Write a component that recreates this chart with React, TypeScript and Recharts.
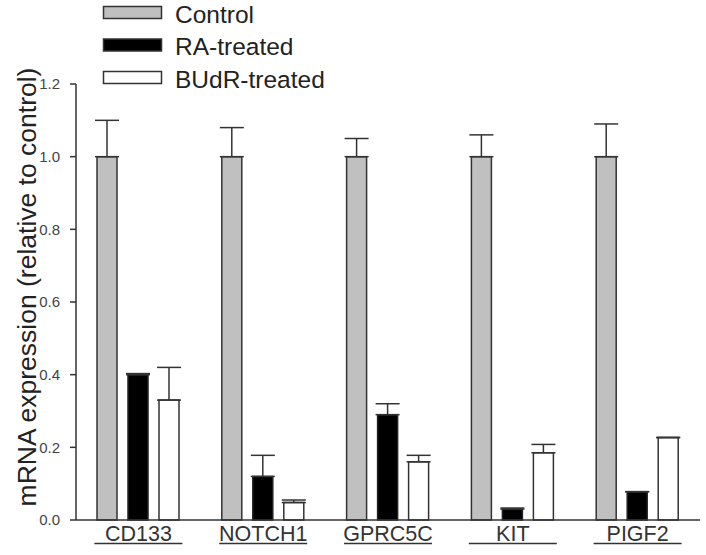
import React from "react";
import { BarChart, Bar, XAxis, YAxis, ErrorBar } from "recharts";

const genes = ["CD133", "NOTCH1", "GPRC5C", "KIT", "PIGF2"];
const control = [1.0, 1.0, 1.0, 1.0, 1.0];
const controlErr = [0.1, 0.08, 0.05, 0.06, 0.09];
const raTreated = [0.4, 0.12, 0.29, 0.03, 0.078];
const raErr = [0.003, 0.058, 0.03, 0.003, 0];
const budrTreated = [0.33, 0.048, 0.16, 0.185, 0.227];
const budrErr = [0.09, 0.007, 0.018, 0.023, 0];
const seriesNames = ["Control", "RA-treated", "BUdR-treated"];
const yTicks = [0, 0.2, 0.4, 0.6, 0.8, 1.0, 1.2];

const fills = ["#c0c0c0", "#000", "#fff"];

// error bars are one-sided (upward only)
const data = genes.map((gene, i) => ({
  gene,
  control: control[i],
  controlErr: [0, controlErr[i]],
  ra: raTreated[i],
  raErr: [0, raErr[i]],
  budr: budrTreated[i],
  budrErr: [0, budrErr[i]],
}));

const FONT = '"Liberation Sans", Arial, sans-serif';

const GeneTick = (props: any) => {
  const { x, y, payload } = props;
  return (
    <g transform={`translate(${x},${y})`}>
      <text x={0} y={21} textAnchor="middle" fontSize={21.5} fill="#333" fontFamily={FONT}>
        {payload.value}
      </text>
      <line x1={-44} x2={44} y1={23.5} y2={23.5} stroke="#333" strokeWidth={1.5} />
    </g>
  );
};

// legend sits above the plot, drawn on top of the chart svg
const LegendBoxes = () => (
  <svg width={360} height={100} style={{ position: "absolute", left: 0, top: 0 }}>
    {seriesNames.map((name, i) => (
      <g key={name} transform={`translate(0, ${i * 32.5})`}>
        <rect x={103.5} y={6.5} width={58} height={12} fill={fills[i]} stroke="#333" strokeWidth={1.5} />
        <text x={175} y={22.5} fontSize={24.5} fill="#222" fontFamily={FONT}>
          {name}
        </text>
      </g>
    ))}
  </svg>
);

const YTitle = () => (
  <text
    transform="translate(36, 287) rotate(-90)"
    textAnchor="middle"
    fontSize={26.5}
    fill="#222"
    fontFamily={FONT}
  >
    mRNA expression (relative to control)
  </text>
);

export default function App() {
  return (
    <div style={{ position: "absolute", left: 0, top: 0, width: 706, height: 555, background: "#fff", fontFamily: FONT }}>
      <BarChart
        width={706}
        height={555}
        data={data}
        margin={{ top: 84, right: 6, left: 0, bottom: 0 }}
        barSize={20}
        barGap={11}
      >
        <XAxis
          dataKey="gene"
          axisLine={{ stroke: "#333", strokeWidth: 1.5 }}
          tickLine={false}
          tickSize={0}
          tickMargin={0}
          interval={0}
          height={35}
          tick={<GeneTick />}
        />
        <YAxis
          width={76}
          domain={[0, 1.2]}
          ticks={yTicks}
          tickFormatter={(v: number) => v.toFixed(1)}
          axisLine={{ stroke: "#333", strokeWidth: 1.5 }}
          tickLine={{ stroke: "#333", strokeWidth: 1.5 }}
          tickSize={6}
          tickMargin={10}
          tick={{ fontSize: 15, fill: "#444", fontFamily: FONT }}
          label={{ content: () => <YTitle /> }}
        />
        <Bar dataKey="control" name={seriesNames[0]} fill={fills[0]} stroke="#333" strokeWidth={1.5} isAnimationActive={false}>
          <ErrorBar dataKey="controlErr" direction="y" width={12} stroke="#333" strokeWidth={1.5} isAnimationActive={false} />
        </Bar>
        <Bar dataKey="ra" name={seriesNames[1]} fill={fills[1]} stroke="#222" strokeWidth={1.5} isAnimationActive={false}>
          <ErrorBar dataKey="raErr" direction="y" width={12} stroke="#333" strokeWidth={1.5} isAnimationActive={false} />
        </Bar>
        <Bar dataKey="budr" name={seriesNames[2]} fill={fills[2]} stroke="#333" strokeWidth={1.5} isAnimationActive={false}>
          <ErrorBar dataKey="budrErr" direction="y" width={12} stroke="#333" strokeWidth={1.5} isAnimationActive={false} />
        </Bar>
      </BarChart>
      <LegendBoxes />
    </div>
  );
}
